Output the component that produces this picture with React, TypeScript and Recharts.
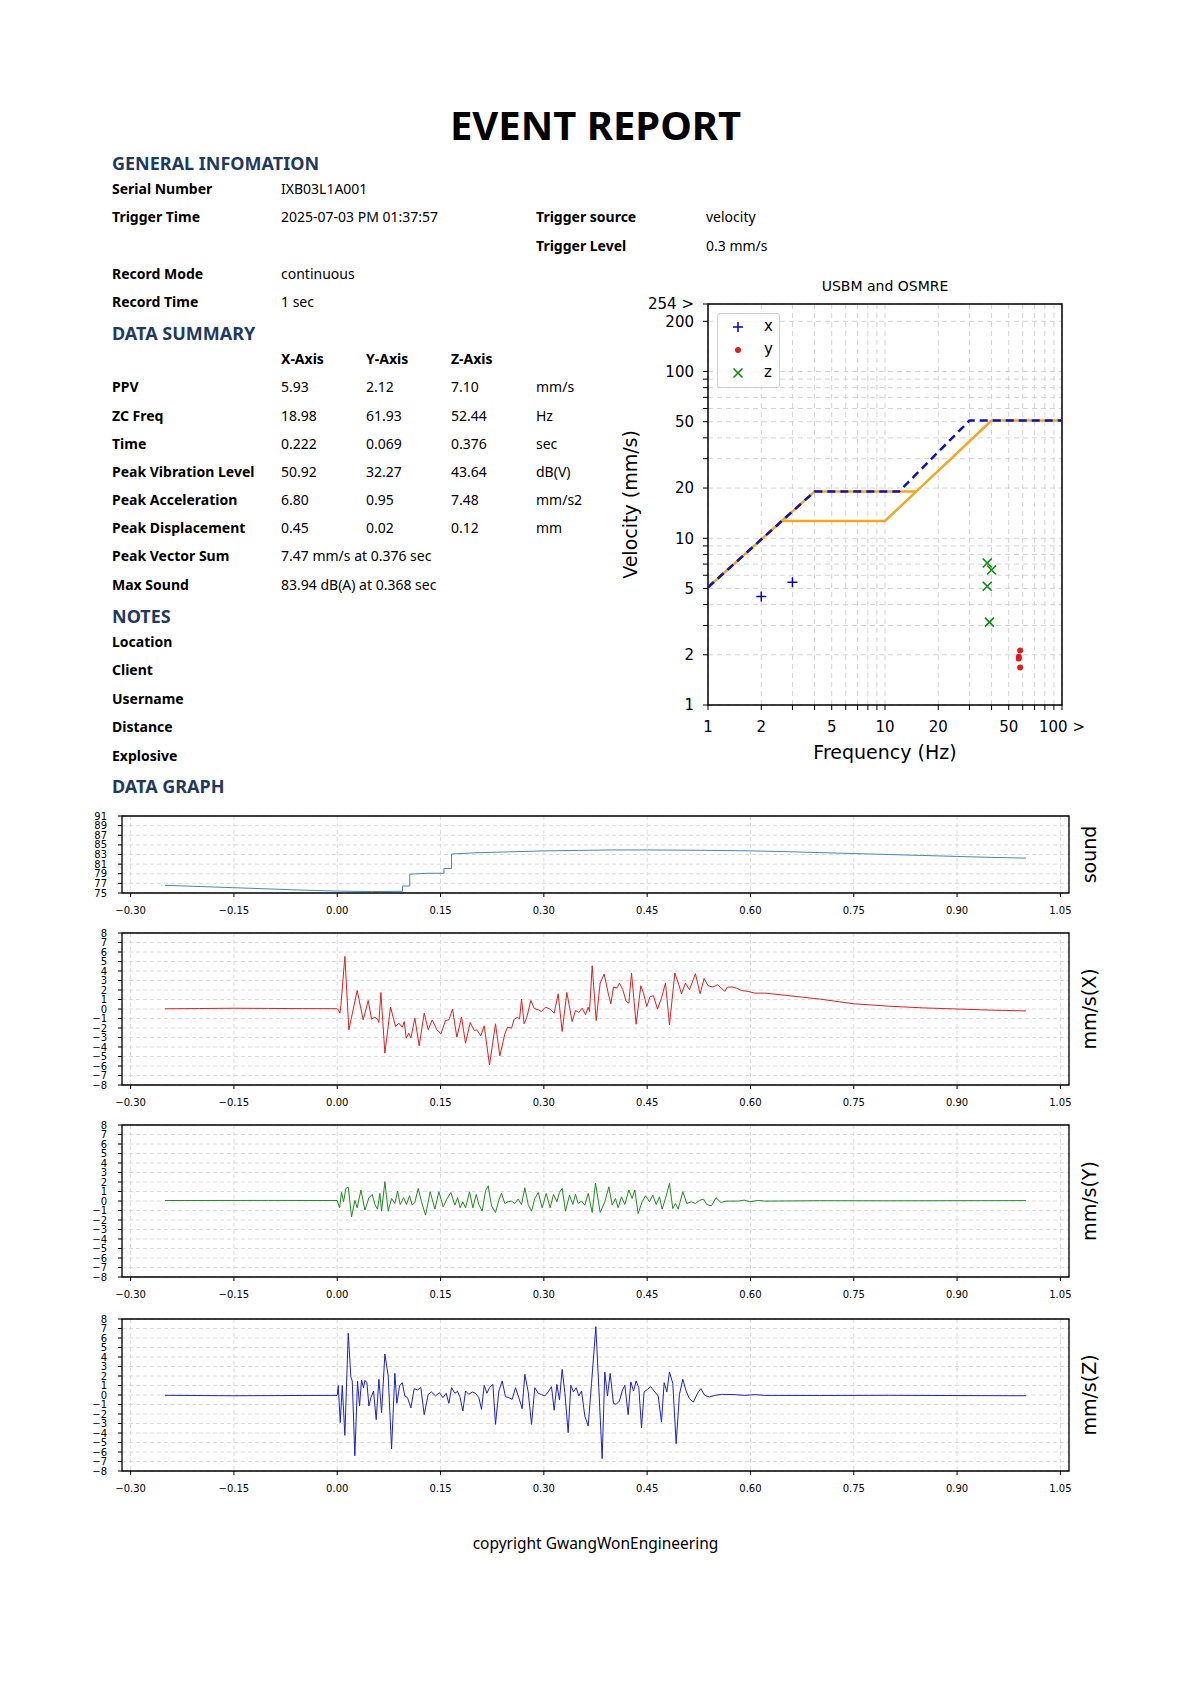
import React from "react";
import { CartesianGrid, ComposedChart, Label, Line, LineChart, ReferenceArea, Scatter, XAxis, YAxis } from "recharts";

// ---- report text ----
const generalRows = [
  { label: "Serial Number", value: "IXB03L1A001", y: 189 },
  { label: "Trigger Time", value: "2025-07-03 PM 01:37:57", y: 217 },
  { label: "Record Mode", value: "continuous", y: 274 },
  { label: "Record Time", value: "1 sec", y: 302 },
];
const triggerRows = [
  { label: "Trigger source", value: "velocity", y: 217 },
  { label: "Trigger Level", value: "0.3 mm/s", y: 246 },
];
const summaryLabels = ["PPV", "ZC Freq", "Time", "Peak Vibration Level", "Peak Acceleration", "Peak Displacement"];
const summaryX = ["5.93", "18.98", "0.222", "50.92", "6.80", "0.45"];
const summaryY = ["2.12", "61.93", "0.069", "32.27", "0.95", "0.02"];
const summaryZ = ["7.10", "52.44", "0.376", "43.64", "7.48", "0.12"];
const summaryUnits = ["mm/s", "Hz", "sec", "dB(V)", "mm/s2", "mm"];
const noteLabels = ["Location", "Client", "Username", "Distance", "Explosive"];

// ---- USBM / OSMRE chart ----
const freqTicks = [1, 2, 3, 4, 5, 6, 7, 8, 9, 10, 20, 30, 40, 50, 60, 70, 80, 90, 100];
const freqLabels: Record<number, string> = { 1: "1", 2: "2", 5: "5", 10: "10", 20: "20", 50: "50", 100: "100 >" };
const ppvTicks = [1, 2, 3, 4, 5, 6, 7, 8, 9, 10, 20, 30, 40, 50, 60, 70, 80, 90, 100, 200, 254];
const ppvLabels: Record<number, string> = { 1: "1", 2: "2", 5: "5", 10: "10", 20: "20", 50: "50", 100: "100", 200: "200", 254: "254 >" };

const usbmUpper: [number, number][] = [[1, 5.08], [4, 19.05], [15, 19.05], [40, 50.8], [100, 50.8]];
const usbmLower: [number, number][] = [[2.6, 12.7], [10, 12.7], [15, 19.05]];
const osmre: [number, number][] = [[1, 5.08], [4, 19.05], [12, 19.05], [30, 50.8], [100, 50.8]];

const peaksX: [number, number][] = [[2.0, 4.47], [3.0, 5.45]];
const peaksY: [number, number][] = [[58, 2.12], [57, 1.95], [57, 1.9], [58, 1.68]];
const peaksZ: [number, number][] = [[37.8, 7.1], [40, 6.45], [37.8, 5.15], [38.9, 3.14]];

// ---- waveforms ----
const timeTicks = [-0.3, -0.15, 0, 0.15, 0.3, 0.45, 0.6, 0.75, 0.9, 1.05];
const soundTicks = [75, 77, 79, 81, 83, 85, 87, 89, 91];
const velTicks = [-8, -7, -6, -5, -4, -3, -2, -1, 0, 1, 2, 3, 4, 5, 6, 7, 8];

const soundLevel: [number, number][] = [
  [-0.25, 76.6], [-0.15, 76.1], [-0.05, 75.6], [0.0, 75.4], [0.05, 75.3], [0.0948, 75.35], [0.0948, 76.45],
  [0.1054, 76.45], [0.1054, 78.9], [0.13, 79.1], [0.155, 79.1], [0.155, 80.1], [0.166, 80.1], [0.166, 83.1],
  [0.2, 83.35], [0.25, 83.55], [0.3, 83.75], [0.35, 83.85], [0.4, 83.95], [0.45, 83.95], [0.5, 83.9],
  [0.55, 83.85], [0.6, 83.75], [0.65, 83.6], [0.7, 83.4], [0.75, 83.2], [0.8, 83.0], [0.85, 82.8],
  [0.9, 82.6], [0.95, 82.4], [1.0, 82.25],
];

const velX: [number, number][] = [
  [-0.25, 0.02], [-0.2, 0.05], [-0.15, 0.08], [-0.1, 0.06], [-0.05, 0.04], [0.0, 0.03], [0.0015, -0.1],
  [0.004, -0.44], [0.0053, 0.34], [0.0111, 5.54], [0.0169, -2.19], [0.029, 1.95], [0.0377, -1.14], [0.045, 0.9],
  [0.0498, -1.07], [0.0547, -0.86], [0.0585, -1.07], [0.0605, -1.42], [0.0634, 1.74], [0.0692, -4.65],
  [0.0774, 0.2], [0.0847, -1.84], [0.0895, -1.49], [0.0944, -1.91], [0.0973, -1.32], [0.1002, -3.07],
  [0.104, -2.55], [0.1069, -3.07], [0.1127, -0.96], [0.119, -3.88], [0.1263, -0.44], [0.1321, -2.19],
  [0.1379, -1.14], [0.1447, -2.19], [0.1505, -2.62], [0.1573, -1.21], [0.1621, -1.14], [0.1674, -0.01],
  [0.1737, -2.97], [0.1805, -0.86], [0.1863, -3.6], [0.1931, -1.42], [0.1989, -2.26], [0.2027, -2.19],
  [0.2085, -2.83], [0.2134, -1.77], [0.2211, -5.89], [0.2298, -1.56], [0.2361, -4.94], [0.2434, -2.62],
  [0.2473, -1.91], [0.2531, -2.02], [0.2569, -1.07], [0.2618, -0.86], [0.2647, -1.07], [0.2676, 1.04],
  [0.2714, -1.56], [0.2753, -0.86], [0.2811, 0.9], [0.286, 0.06], [0.2918, -0.08], [0.2966, -0.26],
  [0.3024, 0.2], [0.3087, -0.01], [0.315, -0.44], [0.3208, 1.6], [0.3266, -2.37], [0.3334, 1.74],
  [0.3411, -1.32], [0.346, -0.15], [0.3508, -0.37], [0.3556, 0.09], [0.3605, -0.61], [0.3644, 0.2],
  [0.3663, -0.26], [0.3702, 4.56], [0.376, -1.21], [0.3818, 2.73], [0.3876, 3.68], [0.3934, 1.67],
  [0.3973, 0.55], [0.4011, 2.31], [0.406, 2.2], [0.4098, 2.73], [0.4147, 2.03], [0.4195, 0.8], [0.4234, 0.62],
  [0.4273, 3.78], [0.434, -1.6], [0.4408, 2.45], [0.4447, 1.67], [0.4495, 0.27], [0.4543, 1.32], [0.4592, 1.39],
  [0.465, -0.01], [0.4708, 1.15], [0.4766, 2.73], [0.4824, -1.67], [0.4902, 3.78], [0.496, 2.55], [0.4998, 1.6],
  [0.5056, 2.73], [0.5114, 2.03], [0.5201, 3.71], [0.5269, 1.6], [0.5327, 3.22], [0.5385, 2.45], [0.5453, 2.31],
  [0.5521, 2.55], [0.5579, 2.2], [0.5627, 1.85], [0.5666, 2.31], [0.5734, 2.31], [0.5797, 2.2], [0.5869, 1.95],
  [0.5966, 1.85], [0.6063, 1.67], [0.6208, 1.67], [0.65, 1.45], [0.7, 1.05], [0.75, 0.55], [0.8, 0.3],
  [0.85, 0.12], [0.9, 0.0], [0.95, -0.12], [1.0, -0.2],
];

const velY: [number, number][] = [
  [-0.25, 0.05], [-0.1, 0.06], [0.0, 0.05], [0.0034, -0.72], [0.0063, 0.9], [0.0092, -0.08], [0.0126, 1.32],
  [0.016, 1.46], [0.0208, -1.67], [0.0256, 0.06], [0.029, -0.72], [0.0344, 1.15], [0.0402, -0.96], [0.046, 0.34],
  [0.0508, 0.69], [0.0547, -0.37], [0.0585, -0.86], [0.0619, 0.8], [0.0644, -1.07], [0.0692, 2.03], [0.074, -1.07],
  [0.0789, 0.27], [0.0837, -0.26], [0.0876, 1.04], [0.0915, -0.37], [0.0963, 0.34], [0.1006, -0.37], [0.105, 0.55],
  [0.1089, -0.44], [0.1127, -0.15], [0.1176, 1.32], [0.1224, -0.08], [0.1282, -1.49], [0.135, 0.97],
  [0.1418, -0.86], [0.1476, 0.97], [0.1539, -0.61], [0.1592, 0.2], [0.165, 0.9], [0.1708, -0.44], [0.1747, 0.34],
  [0.1785, -0.72], [0.1824, -0.08], [0.1863, -0.72], [0.1921, 0.97], [0.1969, -0.72], [0.2018, 0.69],
  [0.2056, -0.37], [0.2105, -1.07], [0.2153, 1.04], [0.2192, 1.6], [0.224, -0.51], [0.2298, -1.21], [0.2347, 0.09],
  [0.2385, 0.8], [0.2434, -0.26], [0.2482, -0.08], [0.2531, -0.01], [0.2579, -0.26], [0.2627, 0.2],
  [0.2676, -0.37], [0.2724, 1.39], [0.2773, -0.37], [0.2821, -1.07], [0.2869, 0.27], [0.2918, 0.9],
  [0.2976, -0.72], [0.3034, 0.8], [0.3092, -0.72], [0.314, 0.69], [0.3189, -0.08], [0.3227, 0.9], [0.3266, 1.32],
  [0.3314, -1.07], [0.3373, 0.62], [0.3421, -0.37], [0.346, 0.69], [0.3498, -0.26], [0.3547, -0.01],
  [0.3595, -0.44], [0.3644, 0.8], [0.3702, -1.21], [0.375, 1.89], [0.3818, -1.21], [0.3886, -0.08], [0.3944, 1.5],
  [0.3992, -0.44], [0.404, 0.27], [0.4079, -0.72], [0.4127, 0.44], [0.4176, -0.37], [0.4234, 1.15], [0.4282, 0.27],
  [0.4321, 1.15], [0.4369, -1.32], [0.4427, -0.08], [0.4476, 0.55], [0.4534, -0.08], [0.4582, 0.62],
  [0.4631, -0.37], [0.4679, 0.44], [0.4718, -0.86], [0.4766, 0.27], [0.4824, 1.85], [0.4872, -0.79],
  [0.4911, -0.26], [0.495, -0.86], [0.5018, 0.97], [0.5076, -0.26], [0.5143, -0.08], [0.5201, -0.26],
  [0.526, 0.06], [0.5318, 0.2], [0.5366, -0.37], [0.5434, -0.51], [0.5501, 0.34], [0.5569, -0.15],
  [0.5651, -0.01], [0.5821, -0.01], [0.5908, 0.09], [0.599, -0.08], [0.6111, 0.06], [0.6208, -0.01],
  [0.7, 0.03], [0.8, 0.02], [0.9, 0.03], [1.0, 0.04],
];

const velZ: [number, number][] = [
  [-0.25, -0.03], [-0.15, -0.08], [-0.05, -0.05], [0.0, -0.04], [0.0015, 1.0], [0.0044, -2.9], [0.0073, 1.0],
  [0.0111, -4.25], [0.016, 6.5], [0.0198, 1.9], [0.0218, 1.47], [0.0256, -6.4], [0.0295, 1.44], [0.0324, -1.16],
  [0.0353, 1.58], [0.0382, 0.77], [0.0402, 1.54], [0.0431, 1.3], [0.046, -1.16], [0.0489, -0.28], [0.0527, 0.42],
  [0.0566, -2.6], [0.0605, 1.65], [0.0644, -1.86], [0.0692, 4.32], [0.074, 2.0], [0.0789, -5.68], [0.0837, 2.28],
  [0.0866, -0.88], [0.0905, 0.95], [0.0944, 1.3], [0.0982, -0.1], [0.1021, -0.28], [0.1069, -1.37],
  [0.1118, 0.67], [0.1166, 0.53], [0.1214, 0.77], [0.1263, -2.07], [0.1321, 0.07], [0.1369, 0.32],
  [0.1427, -0.1], [0.1485, 0.25], [0.1534, -0.28], [0.1582, 0.18], [0.1621, -0.88], [0.166, 0.77],
  [0.1708, 0.18], [0.1747, 0.39], [0.1785, -0.28], [0.1824, -1.68], [0.1863, 0.42], [0.1911, 0.07],
  [0.196, 0.32], [0.2008, 0.18], [0.2056, -0.28], [0.2095, -1.51], [0.2134, 1.02], [0.2173, 0.18], [0.2211, 0.77],
  [0.226, 1.12], [0.2298, -3.09], [0.2347, 0.42], [0.2395, 1.47], [0.2443, -0.18], [0.2492, -0.28],
  [0.254, -0.46], [0.2589, 0.77], [0.2637, -0.28], [0.2685, -1.44], [0.2724, 2.18], [0.2773, 0.32],
  [0.2821, -3.09], [0.2869, 0.77], [0.2918, 0.18], [0.2966, 0.04], [0.3014, -0.1], [0.3063, 0.32],
  [0.3111, 0.88], [0.315, -1.61], [0.3189, 1.12], [0.3227, -0.53], [0.3266, 2.7], [0.3305, 0.25],
  [0.3353, -3.96], [0.3392, 1.02], [0.343, 0.32], [0.3469, 0.77], [0.3508, -0.1], [0.3547, 0.42],
  [0.3595, -2.21], [0.3644, -3.26], [0.3692, 1.2], [0.3755, 7.19], [0.3798, 0.77], [0.3847, -6.7],
  [0.3885, 2.42], [0.3924, -0.1], [0.3963, 2.28], [0.4011, -0.88], [0.405, -0.98], [0.4098, -0.63],
  [0.4137, 0.42], [0.4176, 1.02], [0.4224, -2.07], [0.4263, 1.37], [0.4302, 0.42], [0.434, 1.47], [0.4379, 0.77],
  [0.4418, -3.44], [0.4456, 0.32], [0.4505, 0.6], [0.4553, 0.88], [0.4611, 0.32], [0.466, -0.1], [0.4708, -2.84],
  [0.4747, 1.3], [0.4786, 0.32], [0.4824, 2.42], [0.4872, 1.23], [0.4921, -5.12], [0.4969, 0.07], [0.5018, 1.65],
  [0.5066, 0.42], [0.5114, -0.39], [0.5172, -0.74], [0.5231, 0.18], [0.5279, 0.67], [0.5337, -0.04],
  [0.5405, -0.21], [0.5482, -0.04], [0.5579, 0.07], [0.5772, 0.04], [0.5918, -0.04], [0.6063, 0.04],
  [0.6208, -0.04], [0.7, -0.05], [0.8, -0.03], [0.9, -0.06], [1.0, -0.08],
];

const navy = "#1f3a60";
const pageFont = "'Noto Sans', sans-serif";
const plotFont = "'DejaVu Sans', sans-serif";

function Txt({ x, y, children, size = 14, bold = false, color = "#000", center = false }: any) {
  return (
    <div
      style={{
        position: "absolute",
        left: center ? 0 : x,
        width: center ? 1191 : undefined,
        textAlign: center ? "center" : "left",
        top: y,
        transform: "translateY(-50%)",
        fontSize: size,
        lineHeight: 1,
        fontWeight: bold ? 700 : 400,
        color,
        whiteSpace: "nowrap",
      }}
    >
      {children}
    </div>
  );
}

const fmtTime = (v: number) => (v < -1e-9 ? "\u2212" + Math.abs(v).toFixed(2) : Math.abs(v).toFixed(2));
const fmtInt = (v: number) => (v < 0 ? "\u2212" + Math.abs(v) : String(v));

function WaveChart({ top, plotHeight, series, color, domain, ticks, title }: any) {
  const data = series.map(([t, v]: [number, number]) => ({ t, v }));
  const tickStyle = { fontSize: 10, fill: "#000", fontFamily: plotFont };
  return (
    <div style={{ position: "absolute", left: 60, top: top - 10 }}>
      <LineChart width={1060} height={plotHeight + 40} data={data} margin={{ top: 10, right: 11, bottom: 5, left: 22 }}>
        <CartesianGrid stroke="#dcdcdc" strokeDasharray="4 3" />
        <XAxis
          dataKey="t"
          type="number"
          domain={[-0.3125, 1.0625]}
          ticks={timeTicks}
          interval={0}
          allowDataOverflow
          tickFormatter={fmtTime}
          axisLine={false}
          tickLine={{ stroke: "#000" }}
          tickSize={4}
          tickMargin={10}
          height={25}
          tick={tickStyle}
        />
        <YAxis
          type="number"
          domain={domain}
          ticks={ticks}
          interval={0}
          allowDataOverflow
          tickFormatter={fmtInt}
          axisLine={false}
          tickLine={{ stroke: "#000" }}
          tickSize={4}
          tickMargin={11}
          width={40}
          tick={tickStyle}
        />
        <YAxis yAxisId="r" orientation="right" width={40} tick={false} tickLine={false} axisLine={false}>
          <Label
            content={(p: any) => {
              const vb = p.viewBox;
              const cx = vb.x + 20;
              const cy = vb.y + vb.height / 2;
              return (
                <text x={cx} y={cy} transform={`rotate(-90 ${cx} ${cy})`} textAnchor="middle" dominantBaseline="central" fontSize={19} fontFamily={plotFont} fill="#000">
                  {title}
                </text>
              );
            }}
          />
        </YAxis>
        <ReferenceArea x1={-0.3125} x2={1.0625} y1={domain[0]} y2={domain[1]} fill="none" stroke="#000" strokeWidth={1.3} />
        <Line type="linear" dataKey="v" stroke={color} strokeWidth={1} dot={false} isAnimationActive={false} />
      </LineChart>
    </div>
  );
}

const plusShape = (p: any) => (
  <path d={`M${p.cx - 5},${p.cy}h10M${p.cx},${p.cy - 5}v10`} stroke="#0000cc" strokeWidth={1.5} fill="none" />
);
const dotShape = (p: any) => <circle cx={p.cx} cy={p.cy} r={3} fill="#e21b1b" />;
const crossShape = (p: any) => (
  <path d={`M${p.cx - 4.5},${p.cy - 4.5}l9,9M${p.cx - 4.5},${p.cy + 4.5}l9,-9`} stroke="#0a8a0a" strokeWidth={1.6} fill="none" />
);

const toPts = (arr: [number, number][]) => arr.map(([f, v]) => ({ f, v }));

function UsbmChart() {
  const tickStyle = { fontSize: 15, fill: "#000", fontFamily: plotFont };
  return (
    <div style={{ position: "absolute", left: 600, top: 270, width: 530, height: 500 }}>
      <div style={{ position: "absolute", left: 0, width: 570, textAlign: "center", top: 8, fontSize: 14, fontFamily: plotFont }}>
        USBM and OSMRE
      </div>
      <ComposedChart width={530} height={500} margin={{ top: 34, right: 68, bottom: 15, left: 48 }}>
        <CartesianGrid stroke="#d4d4d4" strokeDasharray="5 4" />
        <XAxis
          dataKey="f"
          type="number"
          scale="log"
          domain={[1, 100]}
          ticks={freqTicks}
          interval={0}
          allowDataOverflow
          tickFormatter={(v: number) => freqLabels[v] ?? ""}
          axisLine={false}
          tickLine={{ stroke: "#000" }}
          tickSize={5}
          tickMargin={11}
          height={50}
          tick={tickStyle}
        >
          <Label
            content={(p: any) => {
              const vb = p.viewBox;
              return (
                <text x={vb.x + vb.width / 2} y={vb.y + 47} textAnchor="middle" dominantBaseline="central" fontSize={19} fontFamily={plotFont} fill="#000">
                  Frequency (Hz)
                </text>
              );
            }}
          />
        </XAxis>
        <YAxis
          type="number"
          scale="log"
          domain={[1, 254]}
          ticks={ppvTicks}
          interval={0}
          allowDataOverflow
          tickFormatter={(v: number) => ppvLabels[v] ?? ""}
          axisLine={false}
          tickLine={{ stroke: "#000" }}
          tickSize={5}
          tickMargin={9}
          width={60}
          tick={tickStyle}
        >
          <Label
            content={(p: any) => {
              const vb = p.viewBox;
              const cx = vb.x - 18;
              const cy = vb.y + vb.height / 2;
              return (
                <text x={cx} y={cy} transform={`rotate(-90 ${cx} ${cy})`} textAnchor="middle" dominantBaseline="central" fontSize={19} fontFamily={plotFont} fill="#000">
                  Velocity (mm/s)
                </text>
              );
            }}
          />
        </YAxis>
        <Line data={toPts(usbmUpper)} dataKey="v" stroke="#f5a623" strokeWidth={2.5} dot={false} isAnimationActive={false} />
        <Line data={toPts(usbmLower)} dataKey="v" stroke="#f5a623" strokeWidth={2.5} dot={false} isAnimationActive={false} />
        <Line data={toPts(osmre)} dataKey="v" stroke="#1010c0" strokeWidth={2.5} strokeDasharray="8 5" dot={false} isAnimationActive={false} />
        <Scatter data={toPts(peaksX)} dataKey="v" shape={plusShape} isAnimationActive={false} />
        <Scatter data={toPts(peaksY)} dataKey="v" shape={dotShape} isAnimationActive={false} />
        <Scatter data={toPts(peaksZ)} dataKey="v" shape={crossShape} isAnimationActive={false} />
        <ReferenceArea x1={1} x2={100} y1={1} y2={254} fill="none" stroke="#000" strokeWidth={1.5} />
      </ComposedChart>
      <div
        style={{
          position: "absolute",
          left: 117,
          top: 43,
          width: 61,
          height: 73,
          background: "rgba(255,255,255,0.85)",
          border: "1px solid #d0d0d0",
          borderRadius: 3,
          fontFamily: plotFont,
          fontSize: 15,
        }}
      >
        {[
          { name: "x", y: 13, icon: <path d="M15,7h10M20,2v10" stroke="#0000cc" strokeWidth={1.5} /> },
          { name: "y", y: 36, icon: <circle cx={20} cy={7} r={3} fill="#e21b1b" /> },
          { name: "z", y: 59, icon: <path d="M15.5,2.5l9,9M15.5,11.5l9,-9" stroke="#0a8a0a" strokeWidth={1.6} /> },
        ].map((e) => (
          <div key={e.name} style={{ position: "absolute", left: 0, top: e.y - 7 }}>
            <svg width={40} height={14} style={{ position: "absolute", left: 0, top: 0 }}>
              {e.icon}
            </svg>
            <span style={{ position: "absolute", left: 46, top: -3, lineHeight: "18px" }}>{e.name}</span>
          </div>
        ))}
      </div>
    </div>
  );
}

export default function App() {
  const rowY = [387, 416, 444, 472, 500, 528];
  const noteY = [642, 670, 699, 727, 756];
  return (
    <div style={{ position: "absolute", left: 0, top: 0, width: 1191, height: 1684, background: "#fff", fontFamily: pageFont, overflow: "hidden" }}>
      <Txt center y={125} size={40} bold>EVENT REPORT</Txt>

      <Txt x={112} y={163} size={18} bold color={navy}>GENERAL INFOMATION</Txt>
      {generalRows.map((r) => (
        <React.Fragment key={r.label}>
          <Txt x={112} y={r.y} bold>{r.label}</Txt>
          <Txt x={281} y={r.y}>{r.value}</Txt>
        </React.Fragment>
      ))}
      {triggerRows.map((r) => (
        <React.Fragment key={r.label}>
          <Txt x={536} y={r.y} bold>{r.label}</Txt>
          <Txt x={706} y={r.y}>{r.value}</Txt>
        </React.Fragment>
      ))}

      <Txt x={112} y={333} size={18} bold color={navy}>DATA SUMMARY</Txt>
      <Txt x={281} y={359} bold>X-Axis</Txt>
      <Txt x={366} y={359} bold>Y-Axis</Txt>
      <Txt x={451} y={359} bold>Z-Axis</Txt>
      {summaryLabels.map((l, i) => (
        <React.Fragment key={l}>
          <Txt x={112} y={rowY[i]} bold>{l}</Txt>
          <Txt x={281} y={rowY[i]}>{summaryX[i]}</Txt>
          <Txt x={366} y={rowY[i]}>{summaryY[i]}</Txt>
          <Txt x={451} y={rowY[i]}>{summaryZ[i]}</Txt>
          <Txt x={536} y={rowY[i]}>{summaryUnits[i]}</Txt>
        </React.Fragment>
      ))}
      <Txt x={112} y={556} bold>Peak Vector Sum</Txt>
      <Txt x={281} y={556}>7.47 mm/s at 0.376 sec</Txt>
      <Txt x={112} y={585} bold>Max Sound</Txt>
      <Txt x={281} y={585}>83.94 dB(A) at 0.368 sec</Txt>

      <Txt x={112} y={616} size={18} bold color={navy}>NOTES</Txt>
      {noteLabels.map((l, i) => (
        <Txt key={l} x={112} y={noteY[i]} bold>{l}</Txt>
      ))}

      <Txt x={112} y={786} size={18} bold color={navy}>DATA GRAPH</Txt>

      <UsbmChart />

      <WaveChart top={816} plotHeight={77} series={soundLevel} color="#4a87b5" domain={[75, 91]} ticks={soundTicks} title="sound" />
      <WaveChart top={933} plotHeight={152} series={velX} color="#e02020" domain={[-8, 8]} ticks={velTicks} title="mm/s(X)" />
      <WaveChart top={1125} plotHeight={152} series={velY} color="#228b22" domain={[-8, 8]} ticks={velTicks} title="mm/s(Y)" />
      <WaveChart top={1319} plotHeight={152} series={velZ} color="#1f1fcc" domain={[-8, 8]} ticks={velTicks} title="mm/s(Z)" />

      <Txt center y={1544} size={15.5}>copyright GwangWonEngineering</Txt>
    </div>
  );
}
